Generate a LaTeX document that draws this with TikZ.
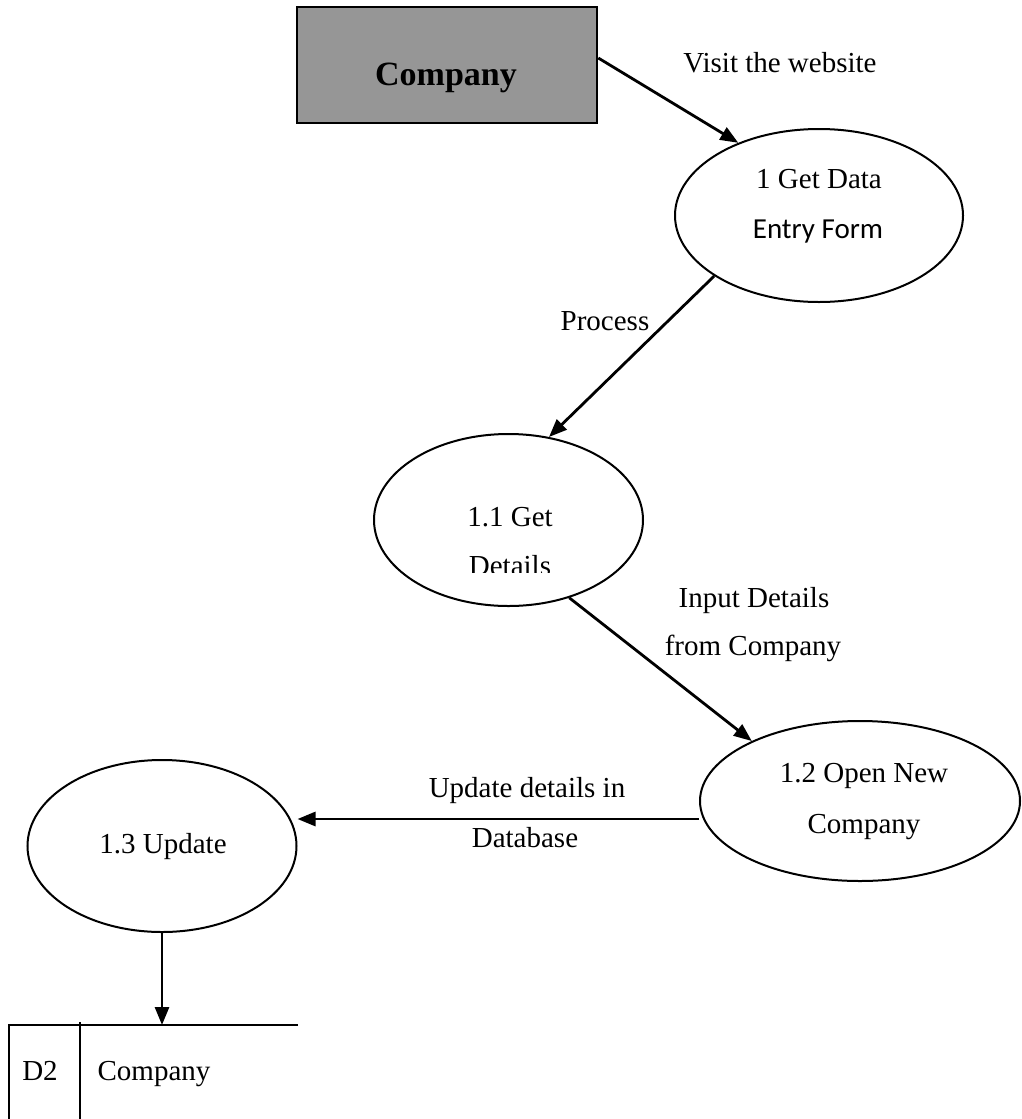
\documentclass[tikz,border=0pt]{standalone}
\usepackage{fontspec}
\setmainfont{Liberation Serif}
\newfontfamily\calibfont{Carlito}
\usetikzlibrary{shapes.geometric,arrows.meta,calc}
\definecolor{extgray}{HTML}{969696}
\begin{document}
\begin{tikzpicture}[x=1pt,y=-1pt,
  proc/.style={draw, ellipse, line width=2pt, inner sep=0pt},
  txt/.style={anchor=base, inner sep=0pt, font=\fontsize{29}{48}\selectfont},
  flow/.style={line width=2.8pt, -{Triangle[length=18pt,width=14pt]}},
  ext/.style={draw, line width=2.6pt, fill=extgray, inner sep=0pt},
  storeline/.style={line width=2pt}]
\useasboundingbox (0,0) rectangle (1022,1119);

% external entity
\node[ext, minimum width=300pt, minimum height=116pt] (comp) at (447,65) {};
\node[txt, font=\bfseries\fontsize{34}{40}\selectfont] (comptxt) at (446,85) {Company};

% processes
\node[proc, minimum width=288pt, minimum height=173pt] (e1) at (819,215.5) {};
\node[proc, minimum width=269pt, minimum height=172pt] (e11) at (508.5,520) {};
\node[proc, minimum width=320pt, minimum height=160pt] (e12) at (860,801) {};
\node[proc, minimum width=269pt, minimum height=172pt] (e13) at (162,846) {};

% process texts
\node[txt] (t1a) at (819,188) {1 Get Data};
\node[txt, font=\calibfont\fontsize{29}{48}\selectfont] (t1b) at (818,238) {Entry Form};
\node[txt] (t11a) at (510,526) {1.1 Get};
\begin{scope}
  \clip (370,540) rectangle (650,572);
  \node[txt] (t11b) at (510,575) {Details};
\end{scope}
\node[txt] (t12a) at (864,782) {1.2 Open New};
\node[txt] (t12b) at (864,833) {Company};
\node[txt] (t13) at (163,853) {1.3 Update};

% data store
\coordinate (storeTL) at (9,1025);
\coordinate (storeTR) at (298,1025);
\coordinate (storeBL) at (9,1119);
\coordinate (divT) at (80,1022);
\coordinate (divB) at (80,1119);
\draw[storeline] (storeTR) -- (storeTL) -- (storeBL);
\draw[storeline] (divT) -- (divB);
\node[txt] (d2) at (40,1080) {D2};
\node[txt] (d2n) at (154,1080) {Company};

% flows
\draw[flow] ([yshift=7pt]comp.east) -- (e1.138.5);
\draw[flow] (e1.210.5) -- (e11.64.3);
\draw[flow] (e11.-52.3) -- (e12.151.4);
\draw[flow] ([yshift=-18pt]e12.west) -- ([yshift=-18pt]e12.west -| e13.east);
\draw[flow] (e13.south) -- (e13.south |- storeTL);

% flow labels
\node[txt] (lvisit) at (780,72) {Visit the website};
\node[txt] (lproc) at (605,330) {Process};
\node[txt] (lin1) at (754,607) {Input Details};
\node[txt] (lin2) at (753,655) {from Company};
\node[txt] (lup1) at (527,797) {Update details in};
\node[txt] (lup2) at (525,847) {Database};
\end{tikzpicture}
\end{document}
